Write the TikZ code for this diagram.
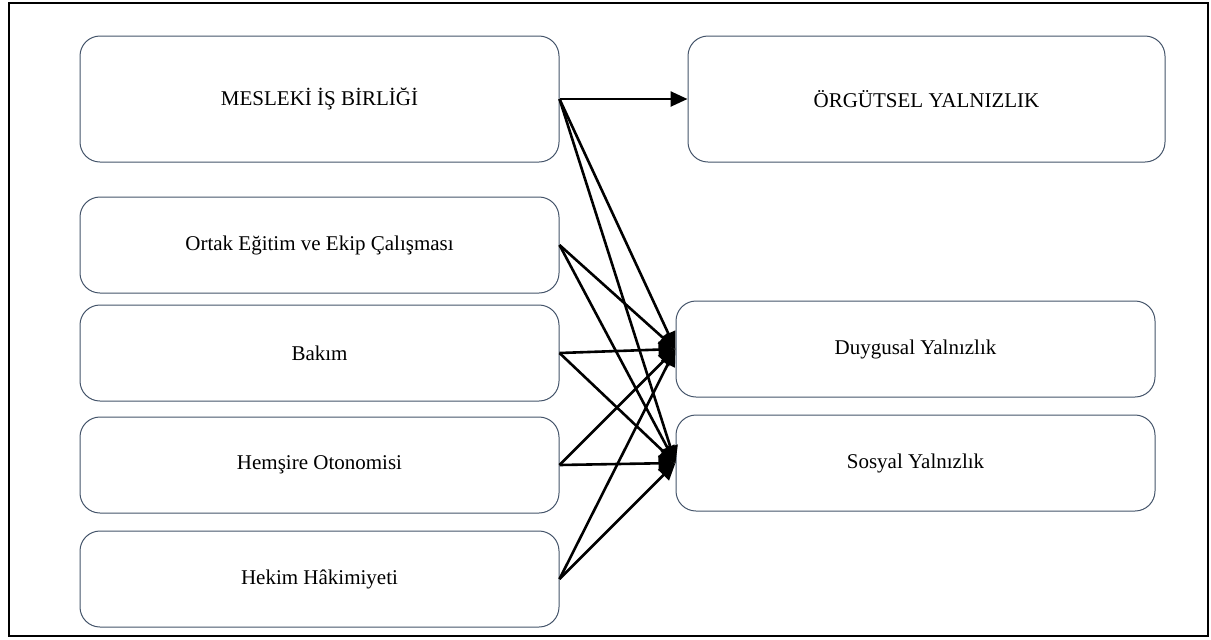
\documentclass[tikz,border=0pt]{standalone}
\usepackage{fontspec}
\setmainfont{Liberation Serif}
\usepackage{tikz}
\usetikzlibrary{positioning,arrows.meta}
\definecolor{boxline}{RGB}{68,84,106}

\begin{document}
\begin{tikzpicture}[
  x=0.5pt, y=-0.5pt,
  vbox/.style={rectangle, draw=boxline, line width=0.5pt, rounded corners=10pt, minimum width=239.5pt, minimum height=48pt, inner sep=0pt, font=\fontsize{10.5}{12}\selectfont},
  bigbox/.style={vbox, minimum height=63pt},
  link/.style={-{Triangle[length=8.5pt,width=7.5pt]}, line width=1.3pt, draw=black},
]

% Frame
\useasboundingbox (0,0) rectangle (1211,639);
\draw[line width=1.3pt] (9,3) rectangle (1208,636);

% Boxes
\node[bigbox] (mes) at (319.5,99) {MESLEKİ İŞ BİRLİĞİ};
\node[bigbox, minimum width=238.5pt, right=64pt of mes] (org) {ÖRGÜTSEL YALNIZLIK};
\node[vbox, below=17pt of mes] (ortak) {Ortak Eğitim ve Ekip Çalışması};
\node[vbox, below=5.5pt of ortak] (bakim) {Bakım};
\node[vbox, below=7.5pt of bakim] (hemsire) {Hemşire Otonomisi};
\node[vbox, below=8.5pt of hemsire] (hekim) {Hekim Hâkimiyeti};
\node[vbox] (duygu) at (915.5,349) {Duygusal Yalnızlık};
\node[vbox, below=8.5pt of duygu] (sosyal) {Sosyal Yalnızlık};

% Links
\draw[link] (mes.east) -- (org.west);
\draw[link] (mes.east) -- (duygu.west);
\draw[link] (mes.east) -- (sosyal.west);
\draw[link] (ortak.east) -- (duygu.west);
\draw[link] (ortak.east) -- (sosyal.west);
\draw[link] (bakim.east) -- (duygu.west);
\draw[link] (bakim.east) -- (sosyal.west);
\draw[link] (hemsire.east) -- (duygu.west);
\draw[link] (hemsire.east) -- (sosyal.west);
\draw[link] (hekim.east) -- (duygu.west);
\draw[link] (hekim.east) -- (sosyal.west);

\end{tikzpicture}
\end{document}
